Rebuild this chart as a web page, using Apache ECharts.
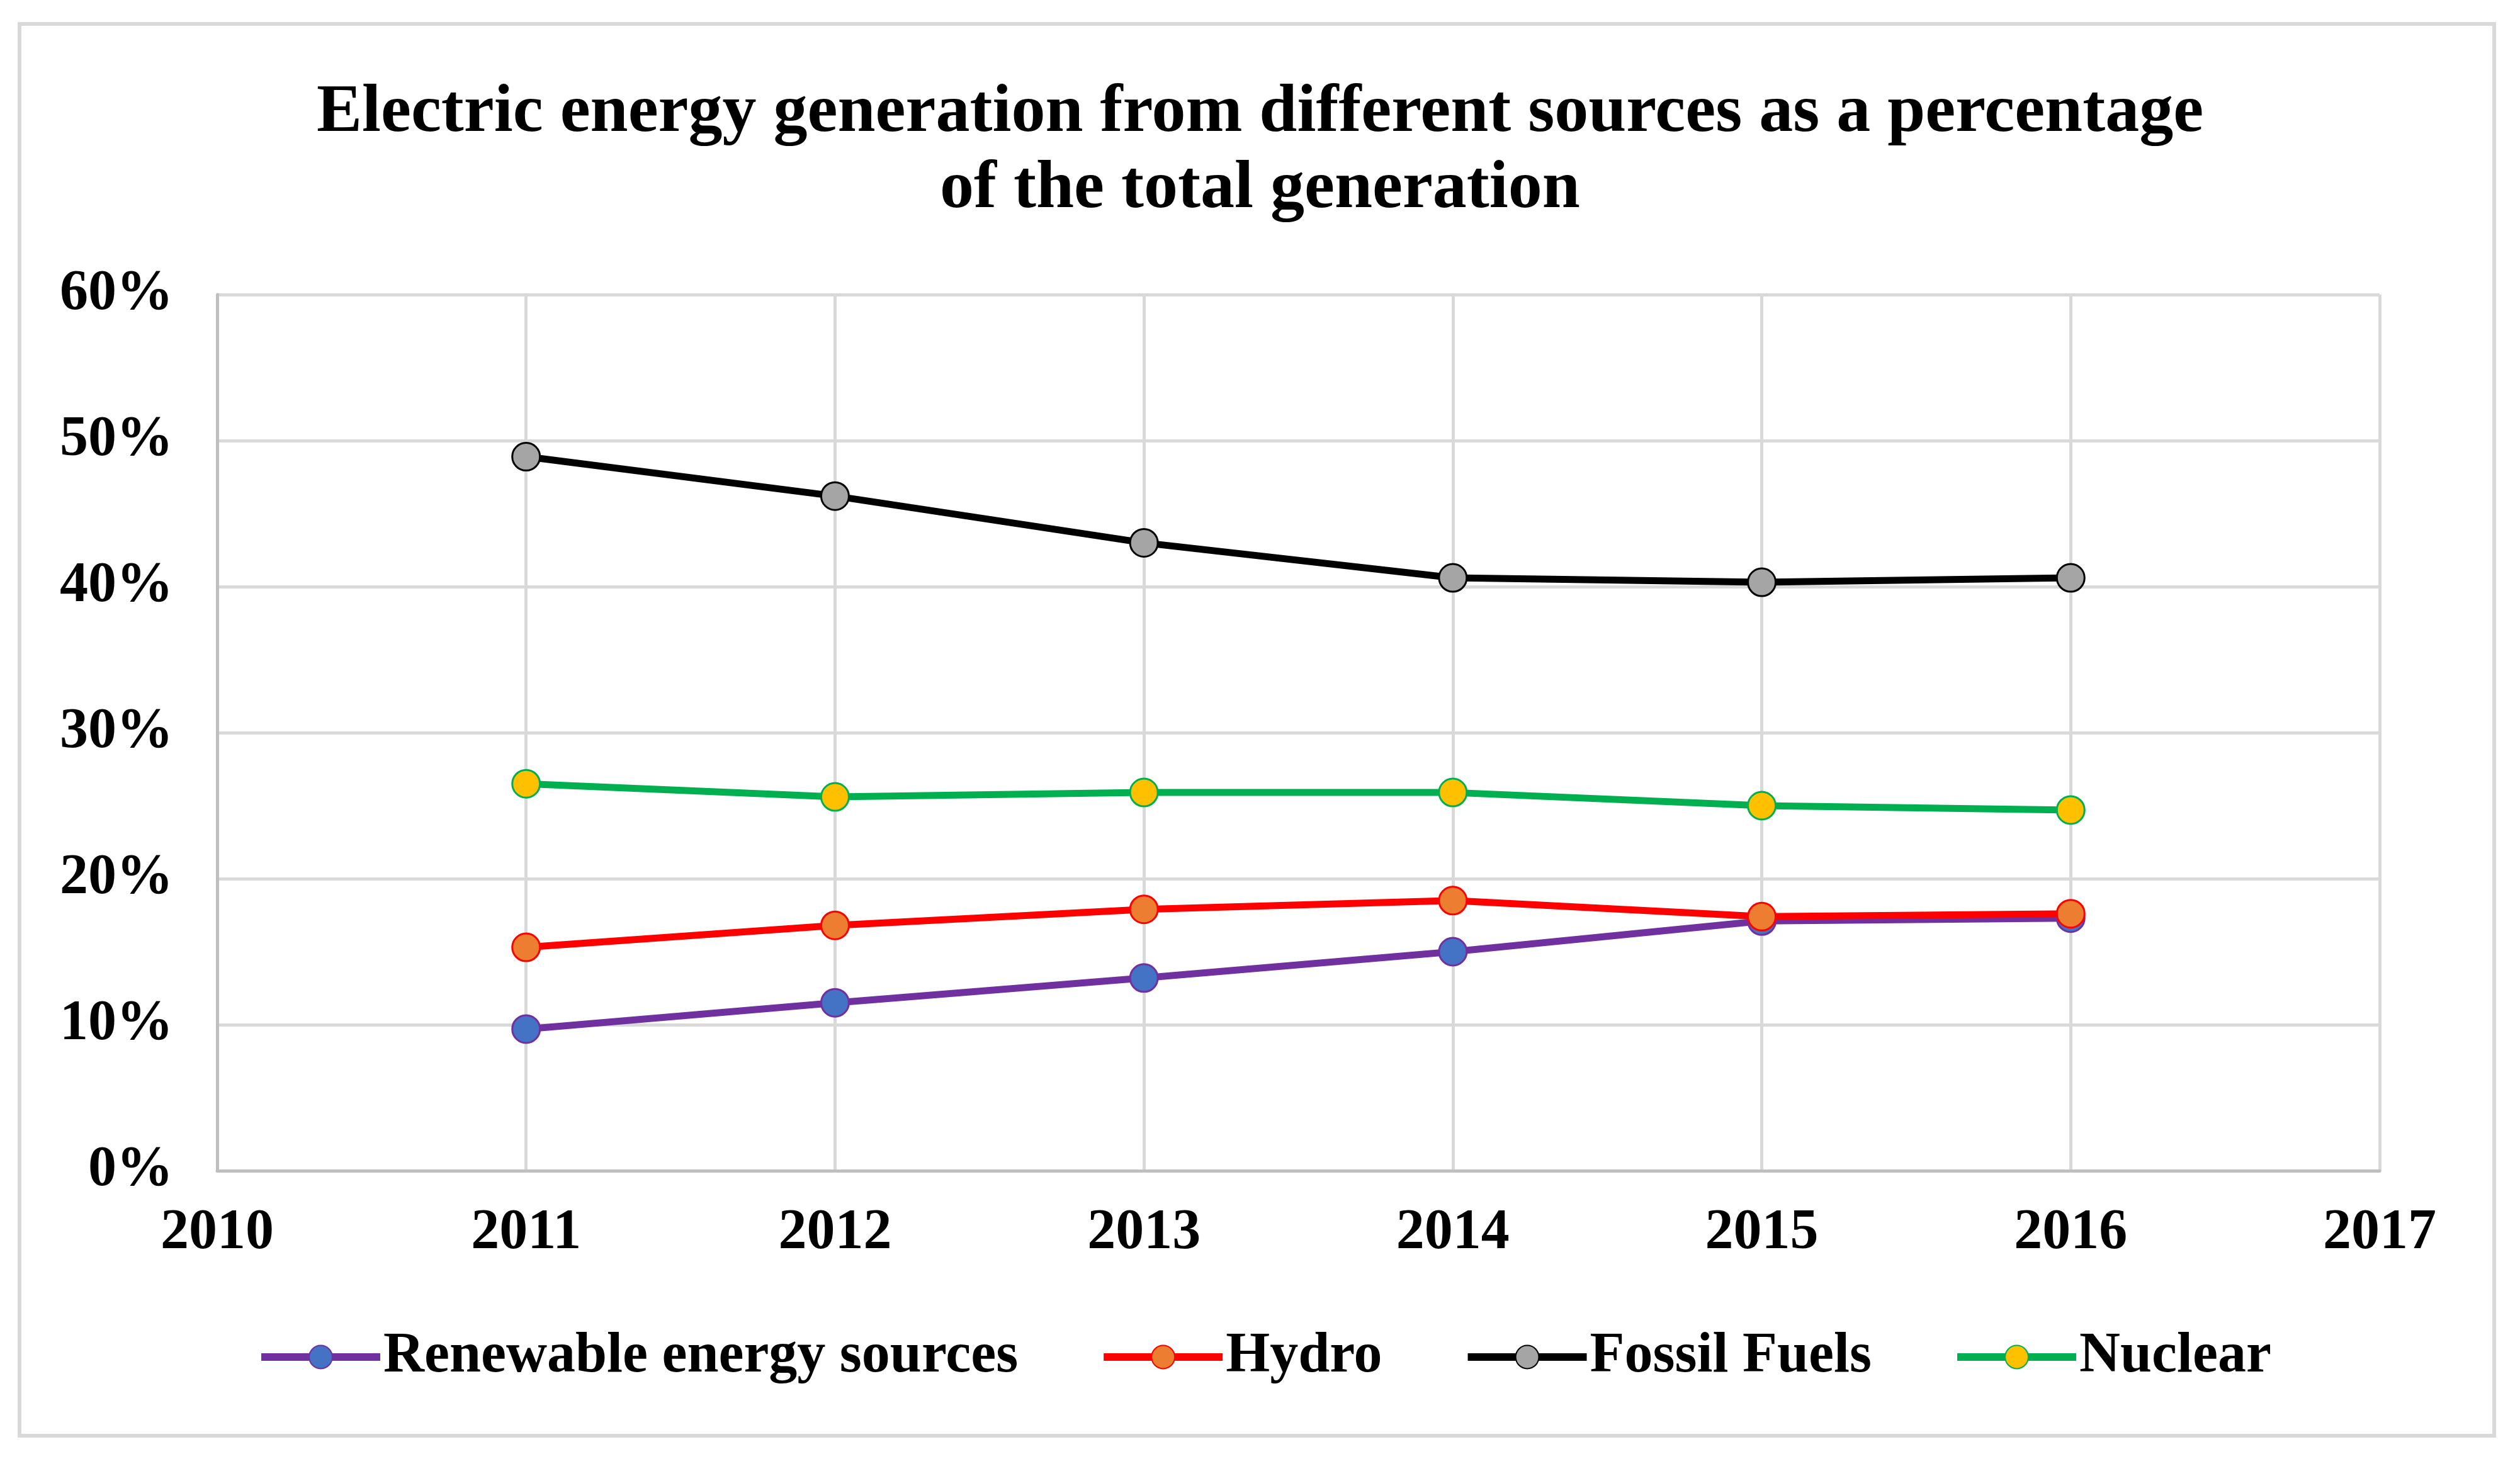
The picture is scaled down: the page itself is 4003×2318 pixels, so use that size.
<!DOCTYPE html>
<html>
<head>
<meta charset="utf-8">
<script src="https://cdn.jsdelivr.net/npm/echarts@6/dist/echarts.min.js"></script>
<style>
html,body{margin:0;padding:0;background:#fff;}
#chart{width:4003px;height:2318px;}
</style>
</head>
<body>
<div id="chart"></div>
<script>
const titleLines = ['Electric energy generation from different sources as a percentage', 'of the total generation'];
const years = [2011, 2012, 2013, 2014, 2015, 2016];
const seriesNames = ['Renewable energy sources', 'Hydro', 'Fossil Fuels', 'Nuclear'];
const renewable = [9.7, 11.5, 13.2, 15.0, 17.1, 17.3];
const hydro = [15.3, 16.8, 17.9, 18.5, 17.4, 17.6];
const fossil = [48.9, 46.2, 43.0, 40.6, 40.3, 40.6];
const nuclear = [26.5, 25.6, 25.9, 25.9, 25.0, 24.7];
const yTicks = [0, 10, 20, 30, 40, 50, 60];
const xTicks = [2010, 2011, 2012, 2013, 2014, 2015, 2016, 2017];

const lineColors = ['#7030a0', '#ff0000', '#000000', '#00b050'];
const fillColors = ['#4472c4', '#ed7d31', '#a5a5a5', '#ffc000'];
const values = [renewable, hydro, fossil, nuclear];
const FONT = '"Liberation Serif", "Times New Roman", serif';

const chart = echarts.init(document.getElementById('chart'));
const series = seriesNames.map((name, i) => ({
  name: name,
  type: 'line',
  data: years.map((y, j) => [y, values[i][j]]),
  symbol: 'circle',
  symbolSize: 44,
  lineStyle: { color: lineColors[i], width: 11 },
  itemStyle: { color: fillColors[i], borderColor: lineColors[i], borderWidth: 3 },
  emphasis: { disabled: true },
  animation: false
}));

chart.setOption({
  backgroundColor: '#ffffff',
  animation: false,
  graphic: [{
    type: 'rect',
    shape: { x: 31, y: 38, width: 3931, height: 2243 },
    style: { fill: 'none', stroke: '#d9d9d9', lineWidth: 6 },
    silent: true
  }],
  title: {
    text: titleLines.join('\n'),
    left: 'center',
    top: 120,
    padding: 0,
    textStyle: {
      fontFamily: FONT, fontWeight: 'bold', fontSize: 108, lineHeight: 121, color: '#000'
    }
  },
  legend: {
    data: seriesNames,
    left: 404,
    top: 2106,
    itemWidth: 189,
    itemHeight: 46,
    itemGap: 130,
    lineStyle: { width: 12 },
    textStyle: { fontFamily: FONT, fontWeight: 'bold', fontSize: 90, color: '#000' }
  },
  grid: { left: 345, right: 223, top: 468, bottom: 458, containLabel: false },
  xAxis: {
    type: 'value',
    min: xTicks[0], max: xTicks[xTicks.length - 1], interval: 1,
    axisLine: { show: true, lineStyle: { color: '#bfbfbf', width: 5 } },
    axisTick: { show: false },
    splitLine: { show: true, lineStyle: { color: '#d9d9d9', width: 5 } },
    axisLabel: {
      margin: 55,
      fontFamily: FONT, fontWeight: 'bold', fontSize: 90, color: '#000',
      formatter: v => String(v)
    }
  },
  yAxis: {
    type: 'value',
    min: yTicks[0], max: yTicks[yTicks.length - 1], interval: 10,
    axisLine: { show: true, lineStyle: { color: '#bfbfbf', width: 5 } },
    axisTick: { show: false },
    splitLine: { show: true, lineStyle: { color: '#d9d9d9', width: 5 } },
    axisLabel: {
      margin: 70,
      fontFamily: FONT, fontWeight: 'bold', fontSize: 90, color: '#000',
      formatter: '{value}%'
    }
  },
  series: series
});
</script>
</body>
</html>
